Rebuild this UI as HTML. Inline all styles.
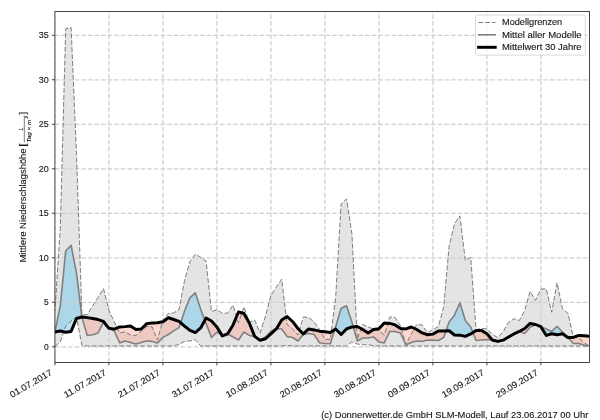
<!DOCTYPE html>
<html><head><meta charset="utf-8"><title>Chart</title>
<style>html,body{margin:0;padding:0;background:#fff;}body{width:600px;height:420px;position:relative;overflow:hidden;font-family:"Liberation Sans",sans-serif;}</style></head>
<body>
<svg width="600" height="420" viewBox="0 0 600 420" style="position:absolute;left:0;top:0;will-change:transform">
<defs><clipPath id="c"><rect x="54.90" y="11.55" width="534.60" height="350.85"/></clipPath></defs>
<g clip-path="url(#c)">
<path d="M54.90 311.15 L60.30 228.38 L65.70 28.57 L71.10 27.60 L76.50 154.51 L81.90 314.71 L87.30 314.71 L92.70 305.81 L98.10 297.36 L103.50 288.54 L108.90 310.26 L114.30 322.01 L119.70 332.95 L125.10 331.80 L130.50 335.00 L135.90 335.45 L141.30 331.00 L146.70 326.46 L152.10 326.81 L157.50 339.99 L162.90 320.05 L168.30 313.46 L173.70 312.93 L179.10 309.37 L184.50 280.53 L189.90 261.75 L195.30 254.28 L200.70 257.31 L206.10 261.04 L211.50 311.60 L216.90 309.81 L222.30 313.29 L227.70 313.11 L233.10 305.19 L238.50 322.72 L243.90 306.97 L249.30 322.27 L254.70 320.05 L260.10 332.95 L265.50 316.05 L270.90 295.49 L276.30 287.12 L281.70 279.11 L287.10 324.50 L292.50 328.50 L297.90 335.00 L303.30 317.02 L308.70 317.47 L314.10 322.01 L319.50 329.39 L324.90 339.36 L330.30 339.36 L335.70 296.91 L341.10 203.91 L346.50 199.01 L351.90 233.72 L357.30 339.19 L362.70 324.50 L368.10 326.99 L373.50 328.95 L378.90 330.46 L384.30 335.00 L389.70 317.02 L395.10 317.38 L400.50 326.01 L405.90 344.44 L411.30 333.93 L416.70 324.50 L422.10 324.94 L427.50 332.78 L432.90 329.48 L438.30 326.73 L443.70 306.97 L449.10 246.18 L454.50 223.93 L459.90 215.92 L465.30 260.42 L470.70 257.31 L476.10 329.66 L481.50 328.50 L486.90 328.95 L492.30 334.47 L497.70 337.49 L503.10 331.98 L508.50 322.27 L513.90 318.71 L519.30 320.50 L524.70 310.44 L530.10 291.30 L535.50 300.29 L540.90 288.99 L546.30 288.99 L551.70 312.22 L557.10 282.67 L562.50 308.93 L567.90 313.20 L573.30 336.96 L578.70 337.94 L584.10 342.48 L589.50 346.48 L589.50 346.48 L584.10 345.95 L578.70 345.95 L573.30 345.95 L567.90 345.95 L562.50 345.95 L557.10 345.95 L551.70 345.95 L546.30 345.95 L540.90 345.95 L535.50 345.95 L530.10 345.95 L524.70 345.95 L519.30 345.95 L513.90 345.95 L508.50 345.95 L503.10 345.95 L497.70 345.95 L492.30 345.95 L486.90 345.95 L481.50 345.95 L476.10 345.95 L470.70 345.95 L465.30 345.95 L459.90 345.95 L454.50 345.95 L449.10 345.95 L443.70 345.95 L438.30 345.95 L432.90 345.95 L427.50 345.95 L422.10 345.95 L416.70 345.95 L411.30 345.95 L405.90 345.95 L400.50 345.95 L395.10 345.95 L389.70 345.95 L384.30 345.95 L378.90 345.95 L373.50 345.68 L368.10 344.79 L362.70 344.79 L357.30 343.99 L351.90 341.94 L346.50 345.95 L341.10 345.95 L335.70 345.95 L330.30 345.95 L324.90 345.95 L319.50 345.95 L314.10 345.95 L308.70 345.95 L303.30 345.95 L297.90 345.95 L292.50 345.95 L287.10 345.42 L281.70 345.95 L276.30 345.95 L270.90 345.95 L265.50 345.95 L260.10 345.95 L254.70 345.95 L249.30 345.95 L243.90 345.95 L238.50 345.95 L233.10 345.95 L227.70 345.95 L222.30 345.95 L216.90 345.95 L211.50 345.95 L206.10 345.95 L200.70 345.95 L195.30 339.72 L189.90 340.96 L184.50 341.41 L179.10 344.44 L173.70 345.95 L168.30 345.95 L162.90 345.95 L157.50 345.95 L152.10 345.95 L146.70 345.95 L141.30 345.95 L135.90 345.95 L130.50 345.95 L125.10 345.95 L119.70 345.95 L114.30 345.95 L108.90 345.95 L103.50 345.95 L98.10 345.95 L92.70 345.95 L87.30 345.95 L81.90 345.42 L76.50 317.47 L71.10 320.94 L65.70 326.01 L60.30 341.94 L54.90 346.48 Z" fill="#e4e4e4" stroke="none"/>
<path d="M54.90 331.98 L60.30 305.81 L65.70 251.07 L71.10 245.29 L76.50 273.06 L81.86 317.04 L81.86 317.04 L76.50 318.45 L71.10 331.44 L65.70 332.24 L60.30 331.00 L54.90 331.98 Z" fill="rgba(135,206,235,0.6)" stroke="none"/>
<path d="M180.69 322.75 L184.50 311.15 L189.90 297.80 L195.30 292.82 L200.70 309.37 L204.85 320.31 L204.85 320.31 L200.70 327.97 L195.30 332.51 L189.90 330.46 L184.50 326.01 L180.69 322.75 Z" fill="rgba(135,206,235,0.6)" stroke="none"/>
<path d="M221.48 334.54 L222.30 335.00 L227.21 334.03 L227.21 334.03 L222.30 335.89 L221.48 334.54 Z" fill="rgba(135,206,235,0.6)" stroke="none"/>
<path d="M254.70 336.43 L260.10 339.63 L265.50 336.96 L270.90 331.18 L276.30 328.50 L276.56 328.53 L276.56 328.53 L276.30 328.95 L270.90 333.85 L265.50 338.74 L260.10 340.34 L254.70 336.43 Z" fill="rgba(135,206,235,0.6)" stroke="none"/>
<path d="M334.81 329.54 L335.70 326.73 L341.10 308.48 L346.50 305.81 L351.90 322.01 L353.28 326.86 L353.28 326.86 L351.90 326.99 L346.50 328.95 L341.10 334.47 L335.70 328.95 L334.81 329.54 Z" fill="rgba(135,206,235,0.6)" stroke="none"/>
<path d="M446.01 330.88 L449.10 322.01 L454.50 315.15 L459.90 302.78 L465.30 320.50 L470.70 326.99 L472.92 332.51 L472.92 332.51 L470.70 333.93 L465.30 336.43 L459.90 335.18 L454.50 335.00 L449.10 330.73 L446.01 330.88 Z" fill="rgba(135,206,235,0.6)" stroke="none"/>
<path d="M540.90 326.73 L546.30 328.95 L551.70 331.44 L557.10 326.28 L562.50 331.98 L567.90 337.49 L567.90 337.49 L562.50 333.76 L557.10 334.74 L551.70 333.76 L546.30 335.45 L540.90 326.73 Z" fill="rgba(135,206,235,0.6)" stroke="none"/>
<path d="M81.86 317.04 L81.90 317.38 L87.30 335.45 L92.70 334.74 L98.10 332.95 L103.50 321.83 L108.90 328.33 L108.90 328.33 L103.50 321.47 L98.10 319.52 L92.70 318.45 L87.30 317.65 L81.90 317.02 L81.86 317.04 Z" fill="rgba(250,160,140,0.4)" stroke="none"/>
<path d="M108.90 328.33 L114.30 331.00 L119.70 342.92 L125.10 340.96 L130.50 342.48 L135.90 343.99 L141.30 342.48 L146.70 340.96 L152.10 341.41 L157.50 342.92 L162.90 337.40 L168.30 334.47 L173.70 330.91 L179.10 327.62 L180.69 322.75 L180.69 322.75 L179.10 321.38 L173.70 319.52 L168.30 317.74 L162.90 321.83 L157.50 322.72 L152.10 322.99 L146.70 323.61 L141.30 328.95 L135.90 329.48 L130.50 326.01 L125.10 326.64 L119.70 326.99 L114.30 329.13 L108.90 328.33 Z" fill="rgba(250,160,140,0.4)" stroke="none"/>
<path d="M204.85 320.31 L206.10 323.61 L211.50 337.49 L216.90 331.98 L221.48 334.54 L221.48 334.54 L216.90 326.99 L211.50 320.94 L206.10 318.00 L204.85 320.31 Z" fill="rgba(250,160,140,0.4)" stroke="none"/>
<path d="M227.21 334.03 L227.70 333.93 L233.10 336.96 L238.50 339.99 L243.90 331.98 L249.30 335.45 L254.70 336.43 L254.70 336.43 L249.30 322.99 L243.90 313.46 L238.50 312.04 L233.10 324.94 L227.70 333.85 L227.21 334.03 Z" fill="rgba(250,160,140,0.4)" stroke="none"/>
<path d="M276.56 328.53 L281.70 328.95 L287.10 336.43 L292.50 337.49 L297.90 340.96 L303.30 334.47 L308.70 333.49 L314.10 334.47 L319.50 342.75 L324.90 343.55 L330.30 343.81 L334.81 329.54 L334.81 329.54 L330.30 332.51 L324.90 331.71 L319.50 331.18 L314.10 329.93 L308.70 328.95 L303.30 333.93 L297.90 328.50 L292.50 321.47 L287.10 316.49 L281.70 320.05 L276.56 328.53 Z" fill="rgba(250,160,140,0.4)" stroke="none"/>
<path d="M353.28 326.86 L357.30 340.96 L362.70 337.94 L368.10 337.94 L373.50 336.96 L378.90 341.94 L384.30 342.92 L389.70 331.44 L395.10 331.44 L400.50 332.95 L405.90 344.97 L411.30 342.48 L416.70 340.96 L422.10 341.41 L427.50 339.99 L432.90 340.16 L438.30 340.43 L443.70 337.49 L446.01 330.88 L446.01 330.88 L443.70 331.00 L438.30 331.00 L432.90 334.11 L427.50 334.74 L422.10 332.95 L416.70 329.48 L411.30 326.99 L405.90 328.95 L400.50 328.50 L395.10 324.94 L389.70 323.43 L384.30 322.99 L378.90 328.68 L373.50 329.48 L368.10 332.95 L362.70 329.48 L357.30 326.46 L353.28 326.86 Z" fill="rgba(250,160,140,0.4)" stroke="none"/>
<path d="M472.92 332.51 L476.10 340.43 L481.50 339.99 L486.90 339.45 L492.30 339.99 L492.30 339.99 L486.90 333.67 L481.50 330.46 L476.10 330.46 L472.92 332.51 Z" fill="rgba(250,160,140,0.4)" stroke="none"/>
<path d="M519.30 331.44 L524.70 333.40 L530.10 327.17 L535.50 324.50 L535.50 324.50 L530.10 323.43 L524.70 328.50 L519.30 331.44 Z" fill="rgba(250,160,140,0.4)" stroke="none"/>
<path d="M567.90 337.49 L573.30 343.46 L578.70 343.46 L584.10 344.97 L589.50 345.77 L589.50 336.16 L584.10 335.71 L578.70 335.45 L573.30 337.49 L567.90 337.49 Z" fill="rgba(250,160,140,0.4)" stroke="none"/>
<line x1="54.90" y1="362.40" x2="54.90" y2="11.55" stroke="#cfcfcf" stroke-width="1.25" stroke-dasharray="4.6 2"/>
<line x1="108.90" y1="362.40" x2="108.90" y2="11.55" stroke="#cfcfcf" stroke-width="1.25" stroke-dasharray="4.6 2"/>
<line x1="162.90" y1="362.40" x2="162.90" y2="11.55" stroke="#cfcfcf" stroke-width="1.25" stroke-dasharray="4.6 2"/>
<line x1="216.90" y1="362.40" x2="216.90" y2="11.55" stroke="#cfcfcf" stroke-width="1.25" stroke-dasharray="4.6 2"/>
<line x1="270.90" y1="362.40" x2="270.90" y2="11.55" stroke="#cfcfcf" stroke-width="1.25" stroke-dasharray="4.6 2"/>
<line x1="324.90" y1="362.40" x2="324.90" y2="11.55" stroke="#cfcfcf" stroke-width="1.25" stroke-dasharray="4.6 2"/>
<line x1="378.90" y1="362.40" x2="378.90" y2="11.55" stroke="#cfcfcf" stroke-width="1.25" stroke-dasharray="4.6 2"/>
<line x1="432.90" y1="362.40" x2="432.90" y2="11.55" stroke="#cfcfcf" stroke-width="1.25" stroke-dasharray="4.6 2"/>
<line x1="486.90" y1="362.40" x2="486.90" y2="11.55" stroke="#cfcfcf" stroke-width="1.25" stroke-dasharray="4.6 2"/>
<line x1="540.90" y1="362.40" x2="540.90" y2="11.55" stroke="#cfcfcf" stroke-width="1.25" stroke-dasharray="4.6 2"/>
<line x1="54.90" y1="346.75" x2="589.50" y2="346.75" stroke="#cfcfcf" stroke-width="1.25" stroke-dasharray="4.6 2"/>
<line x1="54.90" y1="302.25" x2="589.50" y2="302.25" stroke="#cfcfcf" stroke-width="1.25" stroke-dasharray="4.6 2"/>
<line x1="54.90" y1="257.75" x2="589.50" y2="257.75" stroke="#cfcfcf" stroke-width="1.25" stroke-dasharray="4.6 2"/>
<line x1="54.90" y1="213.25" x2="589.50" y2="213.25" stroke="#cfcfcf" stroke-width="1.25" stroke-dasharray="4.6 2"/>
<line x1="54.90" y1="168.75" x2="589.50" y2="168.75" stroke="#cfcfcf" stroke-width="1.25" stroke-dasharray="4.6 2"/>
<line x1="54.90" y1="124.25" x2="589.50" y2="124.25" stroke="#cfcfcf" stroke-width="1.25" stroke-dasharray="4.6 2"/>
<line x1="54.90" y1="79.75" x2="589.50" y2="79.75" stroke="#cfcfcf" stroke-width="1.25" stroke-dasharray="4.6 2"/>
<line x1="54.90" y1="35.25" x2="589.50" y2="35.25" stroke="#cfcfcf" stroke-width="1.25" stroke-dasharray="4.6 2"/>
<path d="M54.90 311.15 L60.30 228.38 L65.70 28.57 L71.10 27.60 L76.50 154.51 L81.90 314.71 L87.30 314.71 L92.70 305.81 L98.10 297.36 L103.50 288.54 L108.90 310.26 L114.30 322.01 L119.70 332.95 L125.10 331.80 L130.50 335.00 L135.90 335.45 L141.30 331.00 L146.70 326.46 L152.10 326.81 L157.50 339.99 L162.90 320.05 L168.30 313.46 L173.70 312.93 L179.10 309.37 L184.50 280.53 L189.90 261.75 L195.30 254.28 L200.70 257.31 L206.10 261.04 L211.50 311.60 L216.90 309.81 L222.30 313.29 L227.70 313.11 L233.10 305.19 L238.50 322.72 L243.90 306.97 L249.30 322.27 L254.70 320.05 L260.10 332.95 L265.50 316.05 L270.90 295.49 L276.30 287.12 L281.70 279.11 L287.10 324.50 L292.50 328.50 L297.90 335.00 L303.30 317.02 L308.70 317.47 L314.10 322.01 L319.50 329.39 L324.90 339.36 L330.30 339.36 L335.70 296.91 L341.10 203.91 L346.50 199.01 L351.90 233.72 L357.30 339.19 L362.70 324.50 L368.10 326.99 L373.50 328.95 L378.90 330.46 L384.30 335.00 L389.70 317.02 L395.10 317.38 L400.50 326.01 L405.90 344.44 L411.30 333.93 L416.70 324.50 L422.10 324.94 L427.50 332.78 L432.90 329.48 L438.30 326.73 L443.70 306.97 L449.10 246.18 L454.50 223.93 L459.90 215.92 L465.30 260.42 L470.70 257.31 L476.10 329.66 L481.50 328.50 L486.90 328.95 L492.30 334.47 L497.70 337.49 L503.10 331.98 L508.50 322.27 L513.90 318.71 L519.30 320.50 L524.70 310.44 L530.10 291.30 L535.50 300.29 L540.90 288.99 L546.30 288.99 L551.70 312.22 L557.10 282.67 L562.50 308.93 L567.90 313.20 L573.30 336.96 L578.70 337.94 L584.10 342.48 L589.50 346.48" fill="none" stroke="#767676" stroke-width="0.95" stroke-dasharray="4.9 2.0" stroke-dashoffset="2.5"/>
<path d="M54.90 346.48 L60.30 341.94 L65.70 326.01 L71.10 320.94 L76.50 317.47 L81.90 345.42 L87.30 345.95 L92.70 345.95 L98.10 345.95 L103.50 345.95 L108.90 345.95 L114.30 345.95 L119.70 345.95 L125.10 345.95 L130.50 345.95 L135.90 345.95 L141.30 345.95 L146.70 345.95 L152.10 345.95 L157.50 345.95 L162.90 345.95 L168.30 345.95 L173.70 345.95 L179.10 344.44 L184.50 341.41 L189.90 340.96 L195.30 339.72 L200.70 345.95 L206.10 345.95 L211.50 345.95 L216.90 345.95 L222.30 345.95 L227.70 345.95 L233.10 345.95 L238.50 345.95 L243.90 345.95 L249.30 345.95 L254.70 345.95 L260.10 345.95 L265.50 345.95 L270.90 345.95 L276.30 345.95 L281.70 345.95 L287.10 345.42 L292.50 345.95 L297.90 345.95 L303.30 345.95 L308.70 345.95 L314.10 345.95 L319.50 345.95 L324.90 345.95 L330.30 345.95 L335.70 345.95 L341.10 345.95 L346.50 345.95 L351.90 341.94 L357.30 343.99 L362.70 344.79 L368.10 344.79 L373.50 345.68 L378.90 345.95 L384.30 345.95 L389.70 345.95 L395.10 345.95 L400.50 345.95 L405.90 345.95 L411.30 345.95 L416.70 345.95 L422.10 345.95 L427.50 345.95 L432.90 345.95 L438.30 345.95 L443.70 345.95 L449.10 345.95 L454.50 345.95 L459.90 345.95 L465.30 345.95 L470.70 345.95 L476.10 345.95 L481.50 345.95 L486.90 345.95 L492.30 345.95 L497.70 345.95 L503.10 345.95 L508.50 345.95 L513.90 345.95 L519.30 345.95 L524.70 345.95 L530.10 345.95 L535.50 345.95 L540.90 345.95 L546.30 345.95 L551.70 345.95 L557.10 345.95 L562.50 345.95 L567.90 345.95 L573.30 345.95 L578.70 345.95 L584.10 345.95 L589.50 346.48" fill="none" stroke="#767676" stroke-width="0.95" stroke-dasharray="4.9 2.0"/>
<path d="M54.90 331.98 L60.30 305.81 L65.70 251.07 L71.10 245.29 L76.50 273.06 L81.90 317.38 L87.30 335.45 L92.70 334.74 L98.10 332.95 L103.50 321.83 L108.90 328.33 L114.30 331.00 L119.70 342.92 L125.10 340.96 L130.50 342.48 L135.90 343.99 L141.30 342.48 L146.70 340.96 L152.10 341.41 L157.50 342.92 L162.90 337.40 L168.30 334.47 L173.70 330.91 L179.10 327.62 L184.50 311.15 L189.90 297.80 L195.30 292.82 L200.70 309.37 L206.10 323.61 L211.50 337.49 L216.90 331.98 L222.30 335.00 L227.70 333.93 L233.10 336.96 L238.50 339.99 L243.90 331.98 L249.30 335.45 L254.70 336.43 L260.10 339.63 L265.50 336.96 L270.90 331.18 L276.30 328.50 L281.70 328.95 L287.10 336.43 L292.50 337.49 L297.90 340.96 L303.30 334.47 L308.70 333.49 L314.10 334.47 L319.50 342.75 L324.90 343.55 L330.30 343.81 L335.70 326.73 L341.10 308.48 L346.50 305.81 L351.90 322.01 L357.30 340.96 L362.70 337.94 L368.10 337.94 L373.50 336.96 L378.90 341.94 L384.30 342.92 L389.70 331.44 L395.10 331.44 L400.50 332.95 L405.90 344.97 L411.30 342.48 L416.70 340.96 L422.10 341.41 L427.50 339.99 L432.90 340.16 L438.30 340.43 L443.70 337.49 L449.10 322.01 L454.50 315.15 L459.90 302.78 L465.30 320.50 L470.70 326.99 L476.10 340.43 L481.50 339.99 L486.90 339.45 L492.30 339.99 L497.70 341.41 L503.10 340.16 L508.50 336.96 L513.90 333.93 L519.30 331.44 L524.70 333.40 L530.10 327.17 L535.50 324.50 L540.90 326.73 L546.30 328.95 L551.70 331.44 L557.10 326.28 L562.50 331.98 L567.90 337.49 L573.30 343.46 L578.70 343.46 L584.10 344.97 L589.50 345.77" fill="none" stroke="#808080" stroke-width="1.6" stroke-linejoin="round"/>
<path d="M54.90 331.98 L60.30 331.00 L65.70 332.24 L71.10 331.44 L76.50 318.45 L81.90 317.02 L87.30 317.65 L92.70 318.45 L98.10 319.52 L103.50 321.47 L108.90 328.33 L114.30 329.13 L119.70 326.99 L125.10 326.64 L130.50 326.01 L135.90 329.48 L141.30 328.95 L146.70 323.61 L152.10 322.99 L157.50 322.72 L162.90 321.83 L168.30 317.74 L173.70 319.52 L179.10 321.38 L184.50 326.01 L189.90 330.46 L195.30 332.51 L200.70 327.97 L206.10 318.00 L211.50 320.94 L216.90 326.99 L222.30 335.89 L227.70 333.85 L233.10 324.94 L238.50 312.04 L243.90 313.46 L249.30 322.99 L254.70 336.43 L260.10 340.34 L265.50 338.74 L270.90 333.85 L276.30 328.95 L281.70 320.05 L287.10 316.49 L292.50 321.47 L297.90 328.50 L303.30 333.93 L308.70 328.95 L314.10 329.93 L319.50 331.18 L324.90 331.71 L330.30 332.51 L335.70 328.95 L341.10 334.47 L346.50 328.95 L351.90 326.99 L357.30 326.46 L362.70 329.48 L368.10 332.95 L373.50 329.48 L378.90 328.68 L384.30 322.99 L389.70 323.43 L395.10 324.94 L400.50 328.50 L405.90 328.95 L411.30 326.99 L416.70 329.48 L422.10 332.95 L427.50 334.74 L432.90 334.11 L438.30 331.00 L443.70 331.00 L449.10 330.73 L454.50 335.00 L459.90 335.18 L465.30 336.43 L470.70 333.93 L476.10 330.46 L481.50 330.46 L486.90 333.67 L492.30 339.99 L497.70 341.41 L503.10 340.16 L508.50 336.96 L513.90 333.93 L519.30 331.44 L524.70 328.50 L530.10 323.43 L535.50 324.50 L540.90 326.73 L546.30 335.45 L551.70 333.76 L557.10 334.74 L562.50 333.76 L567.90 337.49 L573.30 337.49 L578.70 335.45 L584.10 335.71 L589.50 336.16" fill="none" stroke="#000" stroke-width="2.95" stroke-linejoin="round" stroke-linecap="butt"/>
</g>
<rect x="54.90" y="11.55" width="534.60" height="350.85" fill="none" stroke="#1a1a1a" stroke-width="0.8"/>
<line x1="54.90" y1="362.40" x2="54.90" y2="365.40" stroke="#1a1a1a" stroke-width="0.8"/>
<line x1="108.90" y1="362.40" x2="108.90" y2="365.40" stroke="#1a1a1a" stroke-width="0.8"/>
<line x1="162.90" y1="362.40" x2="162.90" y2="365.40" stroke="#1a1a1a" stroke-width="0.8"/>
<line x1="216.90" y1="362.40" x2="216.90" y2="365.40" stroke="#1a1a1a" stroke-width="0.8"/>
<line x1="270.90" y1="362.40" x2="270.90" y2="365.40" stroke="#1a1a1a" stroke-width="0.8"/>
<line x1="324.90" y1="362.40" x2="324.90" y2="365.40" stroke="#1a1a1a" stroke-width="0.8"/>
<line x1="378.90" y1="362.40" x2="378.90" y2="365.40" stroke="#1a1a1a" stroke-width="0.8"/>
<line x1="432.90" y1="362.40" x2="432.90" y2="365.40" stroke="#1a1a1a" stroke-width="0.8"/>
<line x1="486.90" y1="362.40" x2="486.90" y2="365.40" stroke="#1a1a1a" stroke-width="0.8"/>
<line x1="540.90" y1="362.40" x2="540.90" y2="365.40" stroke="#1a1a1a" stroke-width="0.8"/>
<line x1="51.90" y1="346.75" x2="54.90" y2="346.75" stroke="#1a1a1a" stroke-width="0.8"/>
<line x1="51.90" y1="302.25" x2="54.90" y2="302.25" stroke="#1a1a1a" stroke-width="0.8"/>
<line x1="51.90" y1="257.75" x2="54.90" y2="257.75" stroke="#1a1a1a" stroke-width="0.8"/>
<line x1="51.90" y1="213.25" x2="54.90" y2="213.25" stroke="#1a1a1a" stroke-width="0.8"/>
<line x1="51.90" y1="168.75" x2="54.90" y2="168.75" stroke="#1a1a1a" stroke-width="0.8"/>
<line x1="51.90" y1="124.25" x2="54.90" y2="124.25" stroke="#1a1a1a" stroke-width="0.8"/>
<line x1="51.90" y1="79.75" x2="54.90" y2="79.75" stroke="#1a1a1a" stroke-width="0.8"/>
<line x1="51.90" y1="35.25" x2="54.90" y2="35.25" stroke="#1a1a1a" stroke-width="0.8"/>
<text x="48.70" y="349.85" text-anchor="end" font-family="Liberation Sans, sans-serif" font-size="8.90" textLength="4.70" lengthAdjust="spacingAndGlyphs" fill="#161616" stroke="#161616" stroke-width="0.12"  >0</text>
<text x="48.70" y="305.35" text-anchor="end" font-family="Liberation Sans, sans-serif" font-size="8.90" textLength="4.70" lengthAdjust="spacingAndGlyphs" fill="#161616" stroke="#161616" stroke-width="0.12"  >5</text>
<text x="48.70" y="260.85" text-anchor="end" font-family="Liberation Sans, sans-serif" font-size="8.90" textLength="10.00" lengthAdjust="spacingAndGlyphs" fill="#161616" stroke="#161616" stroke-width="0.12"  >10</text>
<text x="48.70" y="216.35" text-anchor="end" font-family="Liberation Sans, sans-serif" font-size="8.90" textLength="10.00" lengthAdjust="spacingAndGlyphs" fill="#161616" stroke="#161616" stroke-width="0.12"  >15</text>
<text x="48.70" y="171.85" text-anchor="end" font-family="Liberation Sans, sans-serif" font-size="8.90" textLength="10.00" lengthAdjust="spacingAndGlyphs" fill="#161616" stroke="#161616" stroke-width="0.12"  >20</text>
<text x="48.70" y="127.35" text-anchor="end" font-family="Liberation Sans, sans-serif" font-size="8.90" textLength="10.00" lengthAdjust="spacingAndGlyphs" fill="#161616" stroke="#161616" stroke-width="0.12"  >25</text>
<text x="48.70" y="82.85" text-anchor="end" font-family="Liberation Sans, sans-serif" font-size="8.90" textLength="10.00" lengthAdjust="spacingAndGlyphs" fill="#161616" stroke="#161616" stroke-width="0.12"  >30</text>
<text x="48.70" y="38.35" text-anchor="end" font-family="Liberation Sans, sans-serif" font-size="8.90" textLength="10.00" lengthAdjust="spacingAndGlyphs" fill="#161616" stroke="#161616" stroke-width="0.12"  >35</text>
<text x="52.90" y="374.30" text-anchor="end" font-family="Liberation Sans, sans-serif" font-size="8.90" textLength="47.30" lengthAdjust="spacingAndGlyphs" fill="#161616" stroke="#161616" stroke-width="0.12"  transform="rotate(-30 52.90 374.30)">01.07.2017</text>
<text x="106.90" y="374.30" text-anchor="end" font-family="Liberation Sans, sans-serif" font-size="8.90" textLength="47.30" lengthAdjust="spacingAndGlyphs" fill="#161616" stroke="#161616" stroke-width="0.12"  transform="rotate(-30 106.90 374.30)">11.07.2017</text>
<text x="160.90" y="374.30" text-anchor="end" font-family="Liberation Sans, sans-serif" font-size="8.90" textLength="47.30" lengthAdjust="spacingAndGlyphs" fill="#161616" stroke="#161616" stroke-width="0.12"  transform="rotate(-30 160.90 374.30)">21.07.2017</text>
<text x="214.90" y="374.30" text-anchor="end" font-family="Liberation Sans, sans-serif" font-size="8.90" textLength="47.30" lengthAdjust="spacingAndGlyphs" fill="#161616" stroke="#161616" stroke-width="0.12"  transform="rotate(-30 214.90 374.30)">31.07.2017</text>
<text x="268.90" y="374.30" text-anchor="end" font-family="Liberation Sans, sans-serif" font-size="8.90" textLength="47.30" lengthAdjust="spacingAndGlyphs" fill="#161616" stroke="#161616" stroke-width="0.12"  transform="rotate(-30 268.90 374.30)">10.08.2017</text>
<text x="322.90" y="374.30" text-anchor="end" font-family="Liberation Sans, sans-serif" font-size="8.90" textLength="47.30" lengthAdjust="spacingAndGlyphs" fill="#161616" stroke="#161616" stroke-width="0.12"  transform="rotate(-30 322.90 374.30)">20.08.2017</text>
<text x="376.90" y="374.30" text-anchor="end" font-family="Liberation Sans, sans-serif" font-size="8.90" textLength="47.30" lengthAdjust="spacingAndGlyphs" fill="#161616" stroke="#161616" stroke-width="0.12"  transform="rotate(-30 376.90 374.30)">30.08.2017</text>
<text x="430.90" y="374.30" text-anchor="end" font-family="Liberation Sans, sans-serif" font-size="8.90" textLength="47.30" lengthAdjust="spacingAndGlyphs" fill="#161616" stroke="#161616" stroke-width="0.12"  transform="rotate(-30 430.90 374.30)">09.09.2017</text>
<text x="484.90" y="374.30" text-anchor="end" font-family="Liberation Sans, sans-serif" font-size="8.90" textLength="47.30" lengthAdjust="spacingAndGlyphs" fill="#161616" stroke="#161616" stroke-width="0.12"  transform="rotate(-30 484.90 374.30)">19.09.2017</text>
<text x="538.90" y="374.30" text-anchor="end" font-family="Liberation Sans, sans-serif" font-size="8.90" textLength="47.30" lengthAdjust="spacingAndGlyphs" fill="#161616" stroke="#161616" stroke-width="0.12"  transform="rotate(-30 538.90 374.30)">29.09.2017</text>
<g transform="translate(0 262.6) rotate(-90)">
<text x="0.00" y="26.40" text-anchor="start" font-family="Liberation Sans, sans-serif" font-size="8.90" textLength="31.20" lengthAdjust="spacingAndGlyphs" fill="#161616" stroke="#161616" stroke-width="0.12"  >Mittlere</text>
<text x="33.70" y="26.40" text-anchor="start" font-family="Liberation Sans, sans-serif" font-size="8.90" textLength="80.50" lengthAdjust="spacingAndGlyphs" fill="#161616" stroke="#161616" stroke-width="0.12"  >Niederschlagsh&#246;he</text>
<text x="115.90" y="26.40" text-anchor="start" font-family="Liberation Sans, sans-serif" font-size="8.90" textLength="3.40" lengthAdjust="spacingAndGlyphs" fill="#161616" stroke="#161616" stroke-width="0.12"  >[</text>
<line x1="120.1" y1="24.3" x2="147.1" y2="24.3" stroke="#262626" stroke-width="0.6"/>
<text x="133.60" y="23.00" text-anchor="middle" font-family="Liberation Sans, sans-serif" font-size="5.90" textLength="3.20" lengthAdjust="spacingAndGlyphs" fill="#161616" stroke="#161616" stroke-width="0.12" font-style="italic" >L</text>
<text x="120.00" y="30.60" text-anchor="start" font-family="Liberation Sans, sans-serif" font-size="5.90" textLength="23.00" lengthAdjust="spacingAndGlyphs" fill="#161616" stroke="#161616" stroke-width="0.12" font-style="italic" >Tag &#215; m</text>
<text x="144.00" y="27.90" text-anchor="start" font-family="Liberation Sans, sans-serif" font-size="4.20" textLength="2.60" lengthAdjust="spacingAndGlyphs" fill="#161616" stroke="#161616" stroke-width="0.12" font-style="italic" >2</text>
<text x="148.00" y="26.40" text-anchor="start" font-family="Liberation Sans, sans-serif" font-size="8.90" textLength="2.70" lengthAdjust="spacingAndGlyphs" fill="#161616" stroke="#161616" stroke-width="0.12"  >]</text>
</g>
<rect x="475.5" y="15.0" width="109.8" height="40.1" rx="1.8" fill="rgba(255,255,255,0.8)" stroke="#d0d0d0" stroke-width="0.8"/>
<line x1="478.3" y1="22.5" x2="495.5" y2="22.5" stroke="#767676" stroke-width="0.95" stroke-dasharray="4.9 2.0"/>
<line x1="478.6" y1="34.8" x2="495.2" y2="34.8" stroke="#808080" stroke-width="1.6" stroke-linecap="square"/>
<line x1="478.6" y1="47.3" x2="495.2" y2="47.3" stroke="#000" stroke-width="2.95" stroke-linecap="square"/>
<text x="502.00" y="25.00" text-anchor="start" font-family="Liberation Sans, sans-serif" font-size="8.90" textLength="60.20" lengthAdjust="spacingAndGlyphs" fill="#161616" stroke="#161616" stroke-width="0.12"  >Modellgrenzen</text>
<text x="502.00" y="37.50" text-anchor="start" font-family="Liberation Sans, sans-serif" font-size="8.90" textLength="79.60" lengthAdjust="spacingAndGlyphs" fill="#161616" stroke="#161616" stroke-width="0.12"  >Mittel aller Modelle</text>
<text x="502.00" y="50.10" text-anchor="start" font-family="Liberation Sans, sans-serif" font-size="8.90" textLength="79.60" lengthAdjust="spacingAndGlyphs" fill="#161616" stroke="#161616" stroke-width="0.12"  >Mittelwert 30 Jahre</text>
<text x="588.40" y="418.20" text-anchor="end" font-family="Liberation Sans, sans-serif" font-size="8.90" textLength="267.20" lengthAdjust="spacingAndGlyphs" fill="#161616" stroke="#161616" stroke-width="0.12"  >(c) Donnerwetter.de GmbH SLM-Modell, Lauf 23.06.2017 00 Uhr</text>
</svg>
</body></html>
